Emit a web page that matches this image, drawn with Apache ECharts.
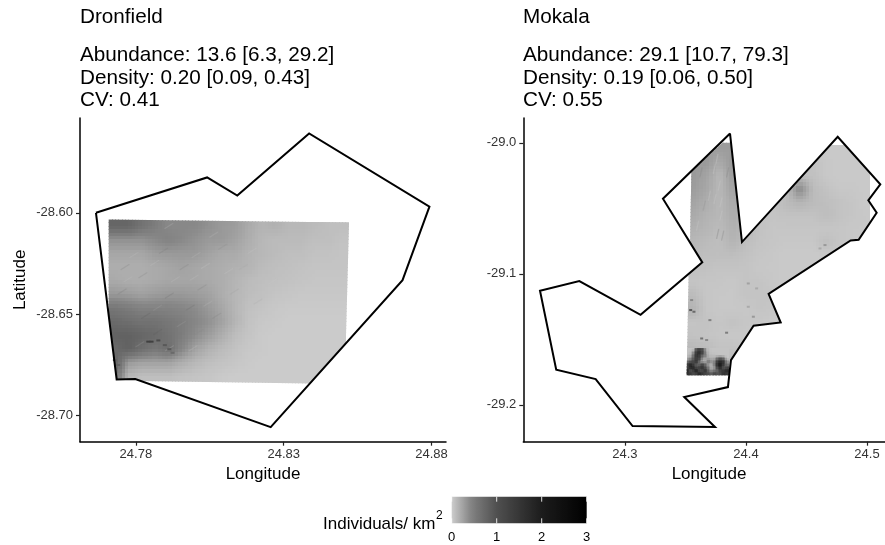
<!DOCTYPE html>
<html><head><meta charset="utf-8">
<style>html,body{margin:0;padding:0;background:#fff}#c{width:885px;height:545px}</style>
<script src="https://cdn.jsdelivr.net/npm/echarts@6/dist/echarts.min.js"></script>
</head><body><div id="c"></div>
<script>
// ---------- text ----------
const dronfieldTitle = 'Dronfield';
const mokalaTitle = 'Mokala';
const dronfieldStats = ['Abundance: 13.6 [6.3, 29.2]', 'Density: 0.20 [0.09, 0.43]', 'CV: 0.41'];
const mokalaStats = ['Abundance: 29.1 [10.7, 79.3]', 'Density: 0.19 [0.06, 0.50]', 'CV: 0.55'];
// ---------- axis ticks ----------
const dronfieldLonTicks = [24.78, 24.83, 24.88];
const dronfieldLatTicks = [-28.60, -28.65, -28.70];
const mokalaLonTicks = [24.3, 24.4, 24.5];
const mokalaLatTicks = [-29.0, -29.1, -29.2];
const legendTicks = [0, 1, 2, 3];
// ---------- boundaries [lon, lat] ----------
const dronfieldBoundary = [[24.7665,-28.6000],[24.8041,-28.5826],[24.8143,-28.5915],[24.8386,-28.5609],[24.8793,-28.5970],[24.8702,-28.6332],[24.8256,-28.7056],[24.7798,-28.6819],[24.7735,-28.6821],[24.7665,-28.6000]];
const mokalaBoundary = [[24.3868,-28.9929],[24.3967,-29.0758],[24.4758,-28.9954],[24.5110,-29.0318],[24.5011,-29.0440],[24.5080,-29.0534],[24.4931,-29.0740],[24.4865,-29.0746],[24.4187,-29.1153],[24.4287,-29.1372],[24.4063,-29.1397],[24.3876,-29.1659],[24.3851,-29.1865],[24.3490,-29.1941],[24.3744,-29.2170],[24.3063,-29.2163],[24.2758,-29.1804],[24.2432,-29.1733],[24.2298,-29.1130],[24.2623,-29.1056],[24.3129,-29.1313],[24.3639,-29.0913],[24.3314,-29.0427],[24.3868,-28.9929]];
// ---------- surveyed raster footprints [lon, lat] ----------
const dronfieldFootprint = [[24.7708,-28.6033],[24.8521,-28.6048],[24.8510,-28.6647],[24.8391,-28.6841],[24.7808,-28.6829],[24.7798,-28.6819],[24.7735,-28.6821],[24.7708,-28.6496]];
const mokalaFootprint = [[24.3548,-29.0221],[24.3807,-29.0000],[24.3873,-29.0000],[24.3967,-29.0758],[24.4694,-29.0018],[24.4818,-29.0018],[24.5025,-29.0229],[24.5025,-29.0425],[24.5011,-29.0440],[24.5025,-29.0458],[24.5025,-29.0611],[24.4931,-29.0740],[24.4865,-29.0746],[24.4187,-29.1153],[24.4287,-29.1372],[24.4063,-29.1397],[24.3876,-29.1659],[24.3860,-29.1774],[24.3510,-29.1774],[24.3526,-29.1003],[24.3639,-29.0913],[24.3540,-29.0768]];
// ---------- density surfaces (individuals / km2), rows north to south ----------
const dronfieldLons = [24.7708, 24.8521];
const dronfieldLats = [-28.6033, -28.6841];
const dronfieldDensity = [
[.75,.75,.60,.50,.40,.40,.40,.35,.30,.28,.20,.14,.16,.12,.12,.10,.08,.08],
[.35,.35,.35,.40,.45,.40,.35,.30,.30,.25,.18,.12,.10,.10,.10,.08,.08,.06],
[.22,.22,.22,.28,.30,.30,.30,.25,.20,.20,.15,.12,.10,.08,.08,.06,.06,.05],
[.18,.18,.18,.20,.22,.25,.22,.20,.18,.16,.14,.10,.08,.07,.06,.05,.05,.05],
[.20,.18,.18,.20,.22,.22,.22,.20,.18,.14,.10,.08,.07,.06,.05,.04,.04,.04],
[.30,.28,.25,.28,.30,.30,.28,.25,.18,.13,.09,.07,.05,.04,.03,.03,.03,.03],
[.55,.50,.45,.45,.45,.42,.38,.30,.22,.13,.07,.05,.03,.02,.02,.02,.02,.02],
[.70,.65,.60,.60,.55,.50,.42,.35,.25,.14,.06,.03,.02,.01,.01,.01,.01,.01],
[.80,.80,.75,.70,.60,.50,.38,.28,.18,.09,.05,.02,.01,.01,.01,.01,.01,.01],
[.70,.80,.65,.55,.65,.42,.25,.16,.10,.06,.03,.02,.01,.01,.01,.01,.01,.01],
[.80,.30,.25,.25,.25,.18,.12,.08,.06,.04,.02,.01,.01,.01,.01,.01,.01,.01],
[.60,.12,.08,.08,.08,.06,.05,.04,.02,.01,.01,.01,.01,.01,.01,.01,.01,.01]];
const mokalaLons = [24.3510, 24.5050];
const mokalaLats = [-29.0000, -29.1832];
const mokalaDensity = [
[.28,.28,.28,.28,.22,.06,.05,.05,.05,.03,.02,.02,.02,.02],
[.28,.30,.20,.30,.22,.06,.05,.05,.05,.06,.03,.02,.02,.02],
[.30,.24,.12,.28,.22,.06,.05,.06,.07,.07,.03,.02,.02,.02],
[.28,.22,.12,.24,.20,.06,.05,.06,.40,.10,.06,.03,.03,.02],
[.24,.18,.12,.20,.18,.06,.05,.10,.14,.10,.08,.06,.04,.02],
[.20,.15,.12,.18,.15,.06,.05,.06,.06,.06,.09,.06,.04,.03],
[.16,.13,.10,.16,.12,.06,.04,.04,.04,.04,.04,.04,.03,.03],
[.12,.10,.08,.14,.08,.05,.04,.03,.03,.03,.08,.04,.03,.03],
[.10,.08,.08,.08,.06,.04,.03,.02,.02,.02,.02,.02,.02,.02],
[.07,.06,.05,.05,.05,.03,.03,.02,.02,.02,.02,.02,.02,.02],
[.05,.04,.04,.03,.05,.05,.03,.02,.02,.02,.02,.02,.02,.02],
[.10,.04,.03,.03,.05,.05,.05,.02,.02,.02,.02,.02,.02,.02],
[.15,.04,.03,.03,.03,.05,.04,.02,.02,.02,.02,.02,.02,.02],
[.05,.06,.04,.06,.04,.03,.02,.02,.02,.02,.02,.02,.02,.02],
[.06,.05,.04,.03,.03,.02,.02,.02,.02,.02,.02,.02,.02,.02],
[.12,.10,.06,.06,.03,.02,.02,.02,.02,.02,.02,.02,.02,.02],
[.20,.15,.10,.10,.03,.02,.02,.02,.02,.02,.02,.02,.02,.02],
[.20,.15,.10,.10,.03,.02,.02,.02,.02,.02,.02,.02,.02,.02]];
// finer patch at the southern edge of Mokala
const mokalaSouthLons = [24.3510, 24.3857];
const mokalaSouthLats = [-29.1568, -29.1774];
const mokalaSouth = [
[.05,.05,.08,1.0,1.2,.90,.20,.08,.05,.05,.05,.05,.05,.05],
[.05,.08,.40,1.5,1.7,1.2,.30,.10,.05,.05,.05,.05,.05,.05],
[.08,.15,.70,1.7,1.3,.70,.45,.12,.10,.08,.06,.05,.05,.05],
[.20,.35,.90,1.4,1.2,.30,.25,.20,.15,.20,.60,.80,.50,.05],
[.50,.90,1.2,1.6,.50,.12,.20,.60,.30,.45,1.4,1.7,1.4,.30],
[1.4,1.8,1.2,.80,.70,1.1,.55,.22,.18,.60,1.9,2.1,1.4,.50],
[1.2,2.0,1.7,.90,1.4,1.6,.80,.40,.12,.35,1.4,1.8,.80,1.1],
[1.8,.90,1.6,2.0,.90,1.2,1.6,.55,.28,.55,.80,1.4,1.4,1.8],
[1.6,1.4,1.1,1.4,1.8,1.4,1.2,1.0,.80,1.2,.90,1.2,1.6,1.4]];
// isolated dark spots [lon, lat, density]
const dronfieldSpots = [[24.7842,-28.6635,1.3],[24.7853,-28.6635,1.3],[24.7876,-28.6629,1.1],[24.7898,-28.6652,.9],[24.7913,-28.6672,.9],[24.7924,-28.6690,.7],[24.7729,-28.6726,.8],[24.7740,-28.6750,.8]];
const mokalaSpots = [[24.3543,-29.1277,.9],[24.3570,-29.1290,.7],[24.3551,-29.1201,.4],[24.3702,-29.1354,.45],[24.3840,-29.1450,.5],[24.3634,-29.1494,.6],[24.3675,-29.1506,.4],[24.4653,-29.0781,.3],[24.4612,-29.0807,.2],[24.4019,-29.1074,.25],[24.4088,-29.1112,.2],[24.4061,-29.1328,.3],[24.4019,-29.1252,.2]];
// short streaks in the surface [lon, lat, density]
const dronfieldStreaks = [[24.775,-28.628,.55],[24.781,-28.632,.5],[24.788,-28.620,.55],[24.795,-28.628,.5],[24.801,-28.638,.5],[24.790,-28.642,.7],[24.782,-28.652,.9],[24.797,-28.648,.7],[24.806,-28.652,.5],[24.812,-28.640,.3],[24.774,-28.640,.6],[24.786,-28.660,.9],[24.800,-28.660,.4],[24.808,-28.618,.4],[24.815,-28.628,.25],[24.820,-28.645,.2],
[24.778,-28.622,.05],[24.785,-28.626,.05],[24.792,-28.634,.05],[24.799,-28.622,.08],[24.776,-28.634,.05],[24.786,-28.648,.2],[24.794,-28.656,.2],[24.803,-28.646,.08],[24.810,-28.630,.03],[24.818,-28.620,.03],[24.790,-28.668,.05],[24.780,-28.666,.2],[24.798,-28.668,.02],[24.825,-28.635,.02],[24.805,-28.612,.08],
[24.7898,-28.6077,.05],[24.8022,-28.6274,.03],[24.7983,-28.6332,.04]];
const mokalaStreaks = [[24.3730,-29.0234,.02],[24.3752,-29.0158,.02],[24.3771,-29.0361,.02],[24.3736,-29.0463,.03],[24.3785,-29.0590,.03],[24.3689,-29.0438,.04],[24.3785,-29.0489,.02],[24.3592,-29.0667,.04],[24.3620,-29.0260,.4],[24.3840,-29.0260,.4],[24.3647,-29.0514,.35],[24.3799,-29.0743,.4],[24.3758,-29.0730,.45]];
// ---------- colour scale ----------
const scaleValues = [0, 0.1, 0.2, 0.3, 0.4, 0.55, 0.75, 1, 2, 3];
const scaleGreys = [205, 187, 170, 153, 136, 119, 102, 80, 28, 0];

function grey(v) {
  let i = 0;
  while (i < scaleValues.length - 2 && v > scaleValues[i + 1]) i++;
  const t = Math.min(1, Math.max(0, (v - scaleValues[i]) / (scaleValues[i + 1] - scaleValues[i])));
  const g = Math.round(scaleGreys[i] + t * (scaleGreys[i + 1] - scaleGreys[i]));
  return 'rgb(' + g + ',' + g + ',' + g + ')';
}
function gridData(m) {
  const out = [];
  m.forEach((r, j) => r.forEach((v, i) => out.push([i, j, v])));
  return out;
}
function sample(m, x, y) {
  const ny = m.length, nx = m[0].length;
  const fx = Math.max(0, Math.min(nx - 1, x)), fy = Math.max(0, Math.min(ny - 1, y));
  const x0 = Math.floor(fx), y0 = Math.floor(fy), x1 = Math.min(nx - 1, x0 + 1), y1 = Math.min(ny - 1, y0 + 1);
  const tx = fx - x0, ty = fy - y0;
  return (m[y0][x0] * (1 - tx) + m[y0][x1] * tx) * (1 - ty) + (m[y1][x0] * (1 - tx) + m[y1][x1] * tx) * ty;
}
function rasterSeries(m, lons, lats, outline, xi, subs) {
  const nx = m[0].length, ny = m.length;
  const dx = (lons[1] - lons[0]) / nx, dy = (lats[1] - lats[0]) / ny;
  return {
    type: 'custom', xAxisIndex: xi, yAxisIndex: xi, silent: true, clip: false, z: 2,
    animation: false, data: gridData(m),
    encode: { x: 0, y: 1 },
    renderItem(params, api) {
      const i = api.value(0), j = api.value(1);
      const children = [];
      for (let a = 0; a < subs; a++) for (let b = 0; b < subs; b++) {
        const p0 = api.coord([lons[0] + (i + a / subs) * dx, lats[0] + (j + b / subs) * dy]);
        const p1 = api.coord([lons[0] + (i + (a + 1) / subs) * dx, lats[0] + (j + (b + 1) / subs) * dy]);
        const v = sample(m, i + (a + .5) / subs - .5, j + (b + .5) / subs - .5);
        children.push({ type: 'rect',
          shape: { x: Math.floor(p0[0]), y: Math.floor(p0[1]), width: Math.ceil(p1[0]) - Math.floor(p0[0]), height: Math.ceil(p1[1]) - Math.floor(p0[1]) },
          style: { fill: grey(v) } });
      }
      return { type: 'group', children,
        clipPath: { type: 'polygon', shape: { points: outline.map(p => api.coord(p)) } } };
    }
  };
}
function spotSeries(spots, xi, w, h) {
  return {
    type: 'custom', xAxisIndex: xi, yAxisIndex: xi, silent: true, clip: false, z: 4,
    animation: false, data: spots, encode: { x: 0, y: 1 },
    renderItem(params, api) {
      const c = api.coord([api.value(0), api.value(1)]);
      return { type: 'rect', shape: { x: c[0] - w / 2, y: c[1] - h / 2, width: w, height: h },
        style: { fill: grey(api.value(2)) } };
    }
  };
}
function streakSeries(streaks, xi, sx, sy, width, alpha) {
  return {
    type: 'custom', xAxisIndex: xi, yAxisIndex: xi, silent: true, clip: false, z: 3,
    animation: false, data: streaks, encode: { x: 0, y: 1 },
    renderItem(params, api) {
      const c = api.coord([api.value(0), api.value(1)]);
      return { type: 'line', shape: { x1: c[0], y1: c[1], x2: c[0] + sx, y2: c[1] + sy },
        style: { stroke: grey(api.value(2)), lineWidth: width, opacity: alpha, lineCap: 'round' } };
    }
  };
}
function boundarySeries(b, xi) {
  return { type: 'line', xAxisIndex: xi, yAxisIndex: xi, data: b, showSymbol: false, silent: true, z: 5,
    animation: false, clip: false, lineStyle: { color: '#000', width: 2, join: 'miter' } };
}
function xAxis(grid, min, max, ticks, name, dec) {
  return { type: 'value', gridIndex: grid, min, max, name, nameLocation: 'middle', nameGap: 24,
    nameTextStyle: { color: '#000', fontSize: 17, fontFamily: 'Liberation Sans' },
    splitLine: { show: false },
    axisLine: { show: true, onZero: false, lineStyle: { color: '#000', width: 1.5 } },
    axisTick: { show: true, length: 4, customValues: ticks, lineStyle: { color: '#222', width: 1.2 } },
    axisLabel: { customValues: ticks, hideOverlap: false, showMinLabel: true, showMaxLabel: true, margin: 6, color: '#333', fontSize: 13, fontFamily: 'Liberation Sans', formatter: v => v.toFixed(dec) } };
}
function yAxis(grid, min, max, ticks, name, dec) {
  return { type: 'value', gridIndex: grid, min, max, name, nameLocation: 'middle', nameGap: 51,
    nameTextStyle: { color: '#000', fontSize: 17, fontFamily: 'Liberation Sans' },
    splitLine: { show: false },
    axisLine: { show: true, onZero: false, lineStyle: { color: '#000', width: 1.5 } },
    axisTick: { show: true, length: 4, customValues: ticks, lineStyle: { color: '#222', width: 1.2 } },
    axisLabel: { customValues: ticks, margin: 7, color: '#333', fontSize: 13, fontFamily: 'Liberation Sans', formatter: v => v.toFixed(dec) } };
}
function label(text, x, y, size) {
  return { type: 'text', silent: true, style: { text, x, y, fill: '#000', font: size + 'px "Liberation Sans"', verticalAlign: 'middle' } };
}
const graphics = [
  label(dronfieldTitle, 80, 17, 20.7),
  label(mokalaTitle, 523, 17, 20.7),
  ...dronfieldStats.map((t, i) => label(t, 80, 55.5 + i * 22.5, 20.7)),
  ...mokalaStats.map((t, i) => label(t, 523, 55.5 + i * 22.5, 20.7)),
  label('Individuals/ km', 323, 524, 17),
  label('2', 436, 516, 12)
];
const legendSeries = {
  type: 'custom', xAxisIndex: 2, yAxisIndex: 2, silent: true, animation: false, clip: false,
  data: [[0, 0]], encode: { x: 0, y: 1 },
  renderItem(params, api) {
    const a = api.coord([0, 0]), b = api.coord([3, 1]);
    const w = b[0] - a[0], h = a[1] - b[1];
    const stops = [];
    for (let s = 0; s <= 60; s++) stops.push({ offset: s / 60, color: grey(s / 20) });
    const kids = [{ type: 'rect', shape: { x: a[0], y: b[1], width: w, height: h },
      style: { fill: { type: 'linear', x: 0, y: 0, x2: 1, y2: 0, colorStops: stops } } }];
    legendTicks.forEach(t => {
      const c = api.coord([t, 0])[0];
      [[b[1], b[1] + 5], [a[1] - 5, a[1]]].forEach(seg => kids.push({ type: 'line',
        shape: { x1: c, y1: seg[0], x2: c, y2: seg[1] }, style: { stroke: '#fff', lineWidth: 1, opacity: .85 } }));
    });
    return { type: 'group', children: kids };
  }
};
const option = {
  backgroundColor: '#fff', animation: false,
  textStyle: { fontFamily: 'Liberation Sans' },
  graphic: graphics,
  grid: [
    { left: 80, top: 118, width: 366, height: 323.7, outerBoundsMode: 'none' },
    { left: 523.3, top: 118, width: 371.4, height: 323.7, outerBoundsMode: 'none' },
    { left: 451.7, top: 496.7, width: 135, height: 26.6, outerBoundsMode: 'none' }
  ],
  xAxis: [
    xAxis(0, 24.7611, 24.8849, dronfieldLonTicks, 'Longitude', 2),
    xAxis(1, 24.2160, 24.5229, mokalaLonTicks, 'Longitude', 1),
    { type: 'value', gridIndex: 2, min: 0, max: 3, interval: 1, splitLine: { show: false }, axisLine: { show: false }, axisTick: { show: false },
      axisLabel: { customValues: legendTicks, margin: 8, color: '#000', fontSize: 13, fontFamily: 'Liberation Sans' } }
  ],
  yAxis: [
    yAxis(0, -28.7128, -28.5533, dronfieldLatTicks, 'Latitude', 2),
    yAxis(1, -29.2282, -28.9811, mokalaLatTicks, '', 1),
    { type: 'value', gridIndex: 2, min: 0, max: 1, show: false }
  ],
  series: [
    rasterSeries(dronfieldDensity, dronfieldLons, dronfieldLats, dronfieldFootprint, 0, 4),
    streakSeries(dronfieldStreaks, 0, 8, -5, 1.2, .22),
    spotSeries(dronfieldSpots, 0, 4, 2),
    boundarySeries(dronfieldBoundary, 0),
    rasterSeries(mokalaDensity, mokalaLons, mokalaLats, mokalaFootprint, 1, 4),
    rasterSeries(mokalaSouth, mokalaSouthLons, mokalaSouthLats, mokalaFootprint, 1, 2),
    streakSeries(mokalaStreaks, 1, 2, -9, 1.3, .35),
    spotSeries(mokalaSpots, 1, 3, 2),
    boundarySeries(mokalaBoundary, 1),
    legendSeries
  ]
};
echarts.init(document.getElementById('c'), null, { renderer: 'canvas' }).setOption(option);
</script></body></html>
